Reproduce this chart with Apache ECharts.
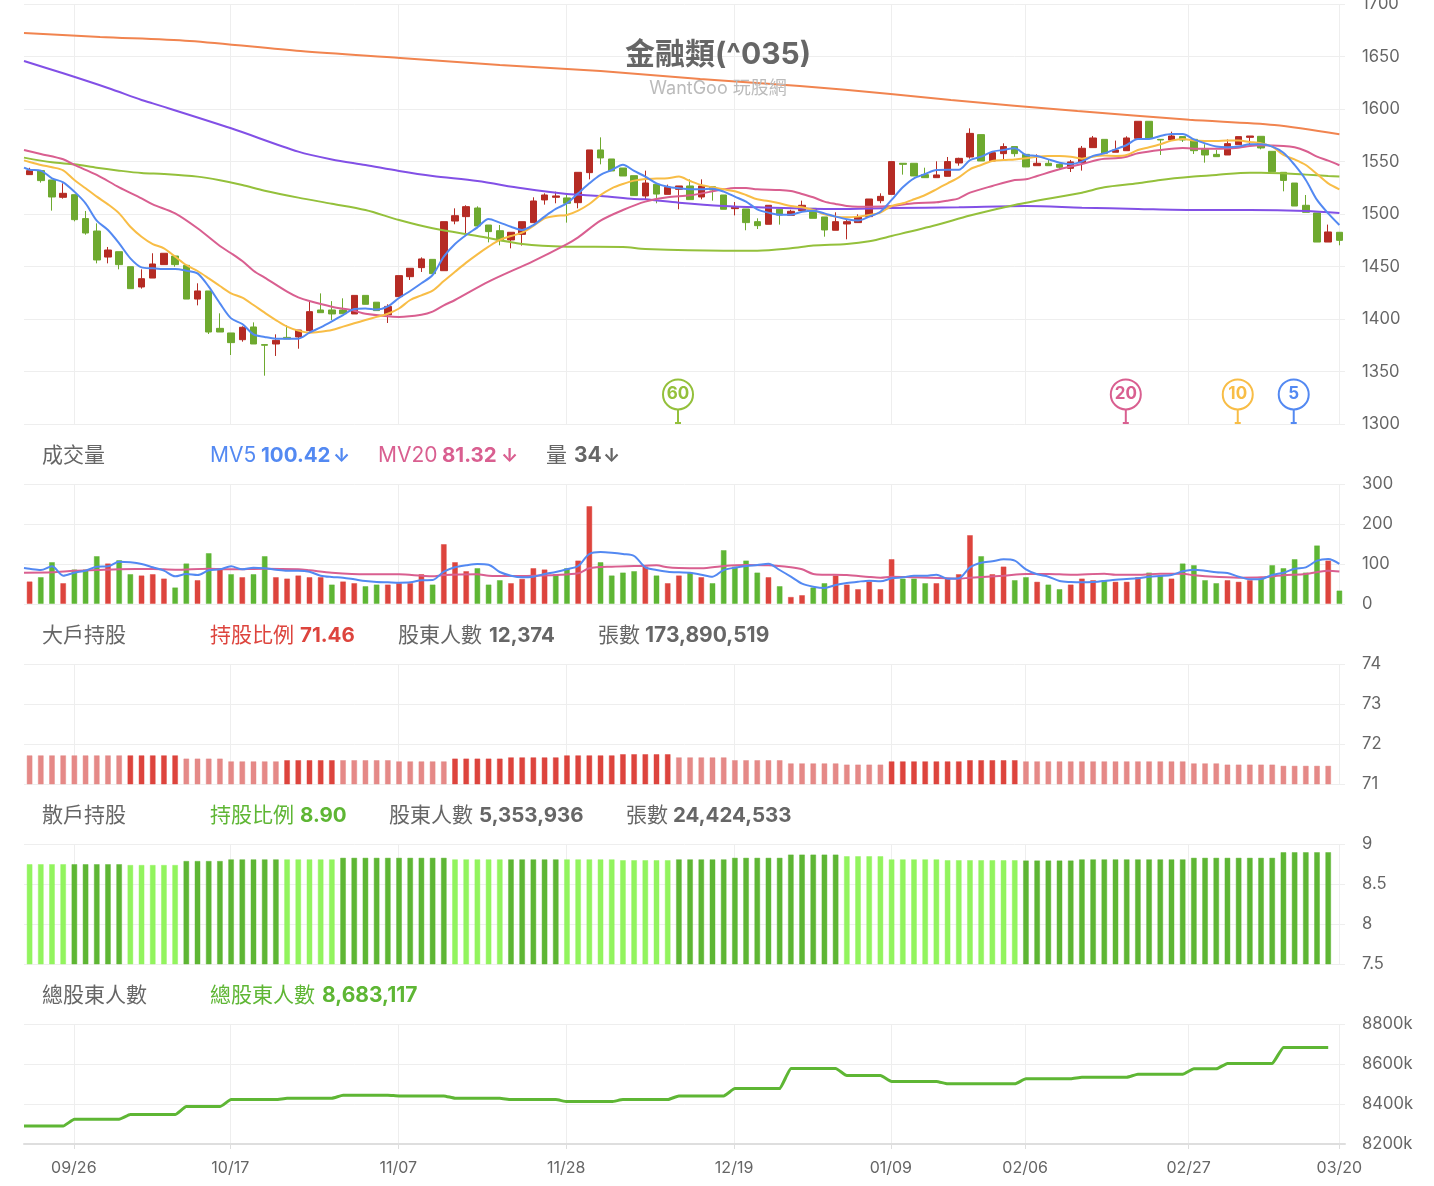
<!DOCTYPE html>
<html>
<head>
<meta charset="utf-8">
<title>金融類(^035)</title>
<script src="https://cdn.jsdelivr.net/npm/echarts@6/dist/echarts.min.js"></script>
<style>
html,body{margin:0;padding:0;background:#fff}
#chart{width:1434px;height:1186px}
</style>
</head>
<body>
<div id="chart"></div>
<script>
// ---- daily candles, one value per session ----
const candleOpen = [1537.5,1541.3,1532.4,1515.9,1518.4,1495.6,1483.8,1459,1464.1,1449.8,1430.5,1439,1451.8,1460,1451.1,1419,1426.7,1391.1,1386.7,1380.3,1392.4,1375.6,1376.2,1382.5,1382.9,1388.9,1408.6,1408.6,1408.6,1404.8,1422.5,1416,1404,1421.3,1440.3,1448.9,1456.8,1446,1493.3,1497.5,1505.7,1489.5,1484.1,1475.3,1480.6,1491.8,1513.4,1515.9,1515.3,1510.8,1539.4,1561,1552.4,1543.8,1536.5,1517.2,1528.3,1518.7,1523.5,1526.7,1516.2,1526,1518.1,1505.1,1504.8,1492.7,1490.2,1504.5,1498.7,1503.2,1505.4,1497.2,1484.5,1490.5,1491.8,1497.5,1512.7,1518.7,1548.3,1548.3,1537.5,1534.6,1535.9,1548.6,1554.3,1575.6,1550.5,1557.5,1564.2,1556.8,1546,1548.3,1547.3,1543.5,1548.9,1563.2,1571.1,1558.8,1560.3,1572.1,1588.3,1571.1,1570.5,1573.7,1571.1,1561.9,1556.8,1556.2,1566,1573,1574,1559.7,1539.7,1529.5,1508.3,1501,1473.3,1482.6];
const candleClose = [1541.3,1531.8,1516.2,1519.7,1494.6,1481.9,1456.2,1465.7,1451.8,1428.9,1438.4,1452.4,1462.6,1451.8,1419,1426.7,1387.6,1387.6,1377.5,1392.1,1376.2,1375,1379.7,1381,1389.5,1407,1406,1404.8,1405,1422.5,1414,1408,1412,1441.3,1448.3,1457.2,1443.2,1492.7,1498.4,1507,1488.6,1483.2,1475.3,1482.6,1492.7,1512.4,1518.1,1517.2,1510.2,1539.7,1561,1553.4,1541,1536.2,1517.5,1529.5,1519,1525.4,1526.7,1513.7,1526.7,1522.9,1504.5,1506.4,1491.8,1488.9,1508.3,1499,1502.6,1508.3,1495.9,1484.8,1492.7,1492.7,1497.5,1514.3,1516.8,1549.9,1547.3,1536.2,1534.6,1537.2,1549.9,1553,1576.8,1550.5,1558.4,1564.2,1557.5,1544.8,1548.3,1546,1544.5,1549.6,1562.6,1572.4,1557.8,1561,1572.4,1588.3,1572.1,1570.5,1574.3,1570.5,1560.3,1556.2,1554.6,1567,1573.7,1574.3,1562.9,1540.3,1532,1507.6,1501.6,1473.3,1482.9,1474.9];
const candleHigh = [1544,1541.3,1532.4,1529.2,1518.4,1502.9,1491.1,1468.6,1464.1,1449.8,1447.3,1462.6,1462.6,1460,1451.1,1434,1426.7,1405.4,1386.7,1393,1396.8,1375.6,1385.4,1394,1389.5,1416.2,1424.4,1417,1419.7,1422.5,1422.5,1416,1414,1441.3,1448.3,1458.7,1456.8,1492.7,1505.4,1508.3,1507.3,1489.5,1489.5,1482.6,1492.7,1515.9,1519.7,1521.3,1518.4,1539.7,1561,1573,1552.4,1543.8,1536.5,1541.3,1528.3,1528,1526.7,1533,1533,1526,1518.1,1511.4,1504.8,1495.9,1508.3,1504.5,1504,1512.7,1505.4,1497.2,1501.6,1495,1499.7,1514.3,1519.7,1549.9,1548.3,1548.3,1544.1,1550.2,1554.3,1553.6,1581.6,1575.6,1558.4,1567.3,1564.2,1556.8,1556.8,1552,1548,1551.5,1564.8,1574.3,1571.1,1569.9,1574,1588.3,1588.3,1571.1,1578.4,1573.7,1571.1,1566.4,1561,1571,1573.7,1574.3,1574,1559.7,1539.7,1529.5,1518.1,1501,1489.9,1482.6];
const candleLow = [1537.5,1529.9,1503.2,1514.6,1493,1480.3,1453,1453,1447.3,1428.9,1428.9,1439,1451.8,1449.8,1419,1413,1385.7,1387.6,1365.7,1378.4,1376.2,1346,1364.8,1381,1371.7,1388,1406,1399,1405,1404.8,1414,1408,1396.2,1421.3,1437.2,1444.8,1443.2,1446,1490.2,1480,1486.4,1473,1470.2,1467.3,1469.9,1491.8,1508.9,1510.2,1491.8,1505.4,1533,1547.3,1541,1536.2,1517.5,1514.3,1510.2,1518.7,1504.5,1513.7,1514,1512.7,1504.5,1498.7,1484.5,1485.7,1490.2,1489.9,1498.7,1503.2,1495.9,1478.4,1484.5,1475.9,1491.8,1497.5,1510.2,1518.7,1537.5,1536.2,1534.6,1534.6,1535.9,1546,1552.7,1550.5,1550.5,1551.8,1554.6,1544.8,1546,1546,1542.6,1540,1541.3,1563.2,1557.8,1558.8,1560.3,1572.1,1572.1,1556.2,1570.5,1568.6,1557.2,1548.9,1554.6,1556.2,1566,1566,1561.6,1540.3,1521.6,1507.6,1501.6,1473.3,1473.3,1470.2];

// ---- price moving averages; the first entry of ma5/ma10 is the value at the left edge ----
const ma5 = [1544.1,1542.2,1541.3,1534,1530.2,1521.3,1510.2,1493.7,1484.8,1472.1,1457.8,1449.2,1448.3,1447.6,1447.6,1446,1443.5,1430.8,1414.9,1400.6,1395.2,1385.4,1382.9,1381.3,1381.3,1381.3,1387,1392.1,1397.8,1403.8,1409.5,1410,1409,1412,1420,1426.7,1434,1441.9,1459.4,1471.4,1480,1487.3,1495.3,1491.8,1487.9,1484.8,1489.5,1497.5,1504.8,1510.2,1519.7,1529.2,1537.2,1541.9,1547,1541,1535.6,1529.2,1526,1524.5,1523.5,1523.5,1524.1,1521.3,1516.5,1511.8,1504.5,1501.3,1499.4,1499.4,1502.2,1503.2,1500.6,1497.5,1494.9,1493.7,1497.5,1502.2,1513.4,1525.4,1534,1538.1,1541.9,1542.2,1542.2,1551.4,1554.6,1559.4,1561,1562.6,1556.2,1555.3,1552,1548.9,1547.6,1549.9,1555.3,1557.8,1561.6,1565.7,1571.5,1571.5,1574.3,1576.2,1576.2,1571.1,1567.3,1564.2,1563.5,1564.2,1566.4,1566.4,1564.2,1558.4,1546.7,1532.4,1513.4,1500.6,1489.5];
const ma10 = [1551.1,1549.5,1546.7,1544.5,1541.6,1532.4,1524.5,1516.5,1509.2,1500.6,1487.9,1478.4,1471.4,1467.3,1459.4,1451.4,1445.7,1438.7,1431.4,1424.4,1420.3,1413.3,1406,1399,1392.7,1388.9,1387,1387.9,1389.5,1392.7,1395.9,1399,1402,1405,1410,1418.1,1422.5,1427,1436.2,1445,1453.7,1461.6,1468.9,1475.3,1479,1482.2,1488.6,1495.9,1498.1,1499.1,1503.2,1509.5,1518.1,1524.5,1528.6,1531.8,1533.4,1533.7,1534,1535.6,1531.4,1527.6,1525.4,1523.5,1521.6,1518.1,1514,1512.4,1510.2,1507.6,1506.4,1503.8,1499.7,1497.5,1496.8,1497.5,1499.1,1501.3,1507.6,1510.2,1514,1518.1,1523.5,1529.2,1534.9,1542.6,1546.7,1550.5,1551.4,1552,1553,1554.6,1555.3,1555.3,1554.6,1552.7,1554.6,1555.6,1555.3,1556.2,1561,1563.5,1566.4,1569.9,1571.5,1569.9,1569.5,1569.5,1569.9,1569.9,1568.6,1567.3,1564.2,1556.2,1552,1546.7,1538.1,1529.2,1523.5];
const ma20Nodes = [[-0.5,1561],[1,1557.2],[3,1552.1],[4,1546.7],[6,1537.2],[8,1525.4],[10,1514.9],[11,1509.2],[13,1500.6],[15,1486.4],[17,1469.5],[18,1462.6],[19,1455.2],[20,1446],[21,1439.4],[23,1426],[24,1420.6],[25,1417.1],[27,1411.7],[29,1407.9],[30,1405],[33,1402],[35,1404],[36,1407],[37,1413],[38,1418.1],[41,1435.6],[45,1455.2],[48,1471.4],[49,1477.8],[51,1493.7],[53,1503.8],[55,1511.8],[57,1515.9],[59,1517.8],[62,1523.5],[63,1524.8],[64,1524.8],[65,1523.5],[67,1522.9],[68,1521.9],[69,1519.1],[70,1515.9],[71,1511.8],[72,1509.5],[73,1507.6],[74,1507],[75,1507],[77,1507.6],[79,1510.2],[81,1511.1],[82,1512.7],[83,1514.9],[84,1520.3],[86,1526.7],[88,1532.4],[89,1533],[90,1536.2],[92,1542.6],[94,1547.6],[96,1552.7],[97,1553],[98,1554.6],[99,1557.8],[101,1561],[103,1562.9],[104,1562.2],[106,1562.2],[108,1563.2],[109,1564.8],[110,1565.4],[112,1564.8],[113,1563.5],[114,1560],[115,1554.6],[116,1550.8],[117,1546.4]];
const ma60Nodes = [[-0.5,1553.7],[2,1549.2],[4,1547.3],[6,1544.1],[8,1541.3],[10,1539],[12,1538.1],[15,1535.6],[17,1532.1],[19,1527.6],[21,1522.2],[24,1515.6],[27,1509.8],[30,1503.8],[33,1494.3],[36,1486.4],[40,1479],[44,1471.4],[48,1468.9],[53,1468.6],[55,1466.7],[62,1465.1],[65,1465.1],[68,1467.3],[70,1469.9],[73,1471.4],[75,1474],[77,1479],[81,1489.5],[84,1498.5],[88,1508.6],[94,1520.3],[96,1525.4],[99,1529.2],[101,1532.4],[104,1535.6],[106,1537.2],[109,1539.4],[110,1539.4],[112,1538.7],[114,1537.5],[116,1536.2],[117,1535.6]];
const ma120Nodes = [[-0.5,1645.7],[3,1634],[7,1620],[10,1608.6],[11,1605.4],[18,1581.6],[24,1559.4],[27,1552],[30,1546.7],[33,1541],[36,1536.2],[40,1531.4],[44,1524.5],[48,1519],[51,1517.2],[54,1514.3],[55,1514],[58,1510.8],[62,1507.6],[65,1506.4],[72,1504.8],[77,1505.7],[83,1506.4],[89,1507.6],[94,1506],[99,1504.8],[104,1503.8],[109,1503.8],[114,1502.9],[117,1501]];
const ma240Nodes = [[-0.5,1672.4],[6.3,1668.6],[14.3,1664.8],[24.2,1655.2],[33.1,1648.6],[42,1641.9],[51,1636.2],[59.9,1628.6],[68.8,1621.9],[76.9,1614.3],[82.3,1608.6],[93.6,1598],[103.6,1589.7],[111.2,1584.8],[117,1575.9]];

// ---- traded volume ----
const volume = [56.7,67.5,105,52.5,86.7,86.7,120,101.7,110,75,71.7,75,64,41.7,101.7,60,127.5,86.7,75,67.5,75,120,67.5,64,71.7,67.5,67.5,49,56.7,52.5,45,49,49,52.5,52.5,75,49,150,105,82.5,90,49,60,52.5,63.3,90,86.7,75,90,109,245,105,71.7,79,82.5,94,71.7,52.5,71.7,79,67.5,52.5,135,94,109,79,67.5,45,18,22.5,41.7,52.5,71.7,49,37.5,56.7,37.5,112.5,64,64,52.5,52.5,64,75,172.5,120,75,94,60,67.5,56,49,37.5,49,64,60,60,56,56,67.5,79,71.7,64,101.7,97.5,60,52.5,60,56,60,64,97.5,90,112.5,79,146.7,109,34];
const volumeUp = "RGGRGGGRGG" + "RRRGGRGRGR" + "GGRRRRRGRR" + "GGRRRRGRRR" + "GGGRRRRGGR" + "RGGGGRGRRG" + "RGGGGGRGRR" + "GGRRRRRRGG" + "GRRRRGRRGG" + "RGGRRRGRRR" + "GGRGGGGRRR" + "GGGGGGRG";
const volumeMa5 = [90,88,85,94.2,70.8,78.3,83.3,93.3,94.2,105.8,104.2,100,91.7,83.3,69.2,75,72.5,84.2,86.7,94.2,86.7,90.8,89.2,85.8,83.3,83.3,80.8,70.8,67.5,65.8,61.7,57.5,55,54.2,53.3,54.2,59.2,60,80.8,91.7,96.7,100,98.3,80,70.8,66.7,68.3,75,80,86.7,95,125,130,128.3,125,120,91.7,85,80.8,79.2,78.3,73.3,68.3,85,90.8,95,97.5,100.8,85,68.3,50.8,43.3,40,47.5,52.5,55.8,58.3,56.7,64.2,66.7,70.8,70.8,73.3,63.3,64.2,91.7,103.3,106.7,111.7,108.3,86.7,74.2,68.3,57.5,55,54.2,55,57.5,60.8,62.5,64.2,68.3,70,72.5,81.7,85.8,83.3,79.2,77.5,68.3,61.7,62.5,72.5,78.3,88.3,91.7,108.3,112.5,100.42];
const volumeMa20Nodes = [[-0.5,78.3],[2,79.2],[4,83.3],[6,85],[8,86.7],[11,87.5],[13,85.8],[16,88.3],[18,86.7],[21,88.3],[24,86.7],[25,84.2],[27,78.3],[30,74.2],[33,74.2],[35,70.8],[36,69.2],[37,72.5],[40,74.2],[41,70.8],[43,70],[45,70.8],[47,72.5],[49,76.7],[50,89.2],[52,93.3],[55,95.8],[56,96.7],[57,91.7],[58,90],[60,89.2],[62,95],[64,97.5],[66,96.7],[68,91.7],[69,86.7],[70,75],[71,73.3],[73,72.5],[75,67.5],[76,65.8],[77,68.3],[79,66.7],[82,64.2],[83,63.3],[84,65.8],[87,70.8],[89,75],[91,75],[93,73.3],[96,75.8],[97,73.3],[99,73.3],[101,75.8],[103,75.8],[104,71.7],[105,69.2],[108,65.8],[110,66.7],[112,71.7],[114,75],[116,83.3],[117,81.32]];

// ---- weekly holder reports: [sessions, value, strong colour] ----
const bigHolderWeeks = [[9,71.72,0],[5,71.72,1],[4,71.64,0],[5,71.57,0],[5,71.6,1],[5,71.6,0],[5,71.57,0],[5,71.64,1],[5,71.67,1],[5,71.72,1],[5,71.75,1],[5,71.67,0],[5,71.6,0],[5,71.52,0],[4,71.49,0],[7,71.57,1],[5,71.6,1],[15,71.57,0],[3,71.52,0],[5,71.49,0],[5,71.46,0]];
const smallHolderWeeks = [[4,8.75,0],[5,8.75,1],[5,8.74,0],[4,8.79,1],[5,8.81,1],[5,8.81,0],[5,8.83,1],[5,8.83,1],[5,8.81,0],[5,8.81,1],[5,8.81,0],[5,8.8,0],[5,8.81,1],[5,8.83,1],[5,8.87,1],[4,8.85,0],[5,8.81,0],[7,8.8,0],[5,8.796,1],[10,8.81,1],[8,8.83,1],[5,8.9,1]];
const holderCountWeeks = [[4,8290],[5,8323.7],[5,8347],[4,8387],[5,8422],[5,8429],[5,8444],[5,8440.6],[5,8429],[5,8422],[5,8412],[5,8422],[5,8440.6],[5,8477],[5,8578],[4,8542.6],[5,8512.6],[7,8500.8],[5,8526],[5,8534],[5,8549],[3,8576],[5,8603],[5,8683.117]];

// ---- date axis; a tick may sit between two sessions ----
const tickIndex = [3.95,17.93,32.93,47.93,62.93,76.93,88.93,103.53,117];
const tickLabels = ['09/26','10/17','11/07','11/28','12/19','01/09','02/06','02/27','03/20'];
const priceTicks = { min: 1300, max: 1700, interval: 50 };
const volumeTicks = { min: 0, max: 300, interval: 100 };
const bigHolderTicks = { min: 71, max: 74, interval: 1 };
const smallHolderTicks = { min: 7.5, max: 9, interval: 0.5 };
const holderCountTicks = { min: 8200, max: 8800, interval: 200 };

// ---- moving-average pins: [session, level, period, colour name] ----
const maPins = [[57.92,1328.2,'60','ma60'],[97.92,1328.2,'20','ma20'],[107.92,1328.2,'10','ma10'],[112.92,1328.2,'5','ma5']];

const sessionCount = candleOpen.length;
const sessions = candleOpen.map((_, i) => i);

const colors = {
  ma5: '#5389f2', ma10: '#f8bd46', ma20: '#d95f90', ma60: '#94c03b',
  ma120: '#8250e6', ma240: '#f1844f',
  candleUp: '#b52b24', candleDown: '#6ea92f',
  barRed: '#dd443d', barGreen: '#5eb634',
  barRedSoft: '#e58987', barGreenSoft: '#92f45e',
  text: '#666666', grid: '#eeeeee'
};
const FONT = 'Inter, "Noto Sans CJK TC", sans-serif';

// Expand weekly runs to one entry per session.
function expandWeeks(weeks) {
  const out = [];
  weeks.forEach(w => { for (let k = 0; k < w[0]; k++) out.push(w); });
  return out;
}
// A list whose first entry belongs to the left edge of the plot.
function edgeSeries(list) {
  return list.map((v, k) => [k === 0 ? -0.5 : k - 1, v]);
}

const grids = [
  { top: 4, height: 420 },
  { top: 484, height: 120 },
  { top: 664, height: 120 },
  { top: 844, height: 120 },
  { top: 1024, height: 120 }
].map(g => ({ left: 24, right: 89, top: g.top, height: g.height, outerBoundsMode: 'none' }));

const xAxes = [];
const yAxes = [];
[priceTicks, volumeTicks, bigHolderTicks, smallHolderTicks, holderCountTicks].forEach((t, k) => {
  const last = k === 4;
  xAxes.push({
    type: 'category', gridIndex: k, data: sessions, show: false, boundaryGap: true
  });
  xAxes.push({
    type: 'value', gridIndex: k, min: -0.5, max: sessionCount - 0.5, position: 'bottom',
    axisLine: { show: last, onZero: false, lineStyle: { color: '#dedede', width: 2 } },
    axisTick: { show: last, customValues: tickIndex, length: 5, lineStyle: { color: '#dedede', width: 1 } },
    axisLabel: {
      show: last, customValues: tickIndex, margin: 16, color: colors.text,
      fontFamily: FONT, fontSize: 16,
      formatter: v => tickLabels[tickIndex.indexOf(v)] || ''
    },
    splitLine: { show: true, lineStyle: { color: colors.grid, width: 1 } }
  });
  yAxes.push({
    type: 'value', gridIndex: k, position: 'right', min: t.min, max: t.max, interval: t.interval,
    axisLine: { show: false }, axisTick: { show: false },
    axisLabel: {
      margin: 17, color: colors.text, fontFamily: FONT, fontSize: 16.6, padding: [-3, 0, 0, 0],
      formatter: v => String(v) + (k === 4 ? 'k' : '')
    },
    splitLine: { show: true, lineStyle: { color: colors.grid, width: 1 } }
  });
});

function lineSeries(pane, data, color, width, extra) {
  return Object.assign({
    type: 'line', xAxisIndex: pane * 2 + 1, yAxisIndex: pane, data,
    symbol: 'none', smooth: 0.3, silent: true,
    lineStyle: { color, width: width || 2 }, z: 5
  }, extra || {});
}

function softBorder(color) { return echarts.color.modifyAlpha(color, 0.45); }

const bigWeeks = expandWeeks(bigHolderWeeks);
const smallWeeks = expandWeeks(smallHolderWeeks);

const series = [
  {
    type: 'candlestick', xAxisIndex: 0, yAxisIndex: 0, barWidth: 7,
    data: sessions.map(i => [candleOpen[i], candleClose[i], candleLow[i], candleHigh[i]]),
    itemStyle: {
      color: colors.candleUp, color0: colors.candleDown,
      borderColor: colors.candleUp, borderColor0: colors.candleDown, borderWidth: 1
    },
    z: 2
  },
  lineSeries(0, ma240Nodes, colors.ma240),
  lineSeries(0, ma120Nodes, colors.ma120),
  lineSeries(0, ma60Nodes, colors.ma60),
  lineSeries(0, ma20Nodes, colors.ma20),
  lineSeries(0, edgeSeries(ma10), colors.ma10),
  lineSeries(0, edgeSeries(ma5), colors.ma5),
  {
    // Period pins standing on the lower edge of the price pane.
    type: 'custom', xAxisIndex: 1, yAxisIndex: 0, z: 6, silent: true,
    data: maPins,
    renderItem(params, api) {
      const c = api.coord([api.value(0), api.value(1)]);
      const foot = api.coord([api.value(0), priceTicks.min]);
      const pin = maPins[params.dataIndex];
      const col = colors[pin[3]];
      return {
        type: 'group',
        children: [
          { type: 'line', shape: { x1: c[0], y1: c[1], x2: foot[0], y2: foot[1] }, style: { stroke: col, lineWidth: 2 } },
          { type: 'line', shape: { x1: foot[0] - 3, y1: foot[1] - 1, x2: foot[0] + 3, y2: foot[1] - 1 }, style: { stroke: col, lineWidth: 2 } },
          { type: 'circle', shape: { cx: c[0], cy: c[1], r: 15 }, style: { fill: '#fff', stroke: col, lineWidth: 2 } },
          { type: 'text', style: { x: c[0], y: c[1], text: pin[2], fill: col, font: 'bold 17px ' + FONT, align: 'center', verticalAlign: 'middle' } }
        ]
      };
    }
  },
  {
    type: 'bar', xAxisIndex: 2, yAxisIndex: 1, barWidth: 6,
    data: volume.map((v, i) => {
      const col = volumeUp[i] === 'R' ? colors.barRed : colors.barGreen;
      return { value: v, itemStyle: { color: col, borderColor: softBorder(col), borderWidth: 1 } };
    }),
    z: 2
  },
  lineSeries(1, volumeMa20Nodes, colors.ma20),
  lineSeries(1, edgeSeries(volumeMa5), colors.ma5),
  {
    type: 'bar', xAxisIndex: 4, yAxisIndex: 2, barWidth: 6,
    data: bigWeeks.map(w => {
      const col = w[2] ? colors.barRed : colors.barRedSoft;
      return { value: w[1], itemStyle: { color: col, borderColor: softBorder(col), borderWidth: 1 } };
    }),
    z: 2
  },
  {
    type: 'bar', xAxisIndex: 6, yAxisIndex: 3, barWidth: 6,
    data: smallWeeks.map(w => {
      const col = w[2] ? colors.barGreen : colors.barGreenSoft;
      return { value: w[1], itemStyle: { color: col, borderColor: softBorder(col), borderWidth: 1 } };
    }),
    z: 2
  },
  lineSeries(4, [[-0.5, holderCountWeeks[0][1]]].concat(expandWeeks(holderCountWeeks).map((w, i) => [i, w[1]])), colors.barGreen, 3, { smooth: 0.15, smoothMonotone: 'x' })
];

// Header rows above each pane: [left, text, colour, bold, size]
const headerRows = [
  { y: 456, parts: [
    [42, '成交量', colors.text, 0],
    [210, 'MV5', colors.ma5, 0], [261, '100.42', colors.ma5, 1, 20.5], [333, '↓', colors.ma5, 1, 19],
    [378, 'MV20', colors.ma20, 0], [442, '81.32', colors.ma20, 1, 20.5], [501, '↓', colors.ma20, 1, 19],
    [546, '量', colors.text, 0], [574, '34', colors.text, 1], [603, '↓', colors.text, 1, 19]
  ] },
  { y: 636, parts: [
    [42, '大戶持股', colors.text, 0],
    [210, '持股比例', colors.barRed, 0], [300, '71.46', colors.barRed, 1, 20.5],
    [398, '股東人數', colors.text, 0], [489, '12,374', colors.text, 1, 20.5],
    [598, '張數', colors.text, 0], [645, '173,890,519', colors.text, 1]
  ] },
  { y: 816, parts: [
    [42, '散戶持股', colors.text, 0],
    [210, '持股比例', colors.barGreen, 0], [300, '8.90', colors.barGreen, 1, 20.5],
    [389, '股東人數', colors.text, 0], [479, '5,353,936', colors.text, 1, 20.5],
    [626, '張數', colors.text, 0], [673, '24,424,533', colors.text, 1, 20.5]
  ] },
  { y: 996, parts: [
    [42, '總股東人數', colors.text, 0],
    [210, '總股東人數', colors.barGreen, 0], [322, '8,683,117', colors.barGreen, 1]
  ] }
];

const graphic = [
  {
    type: 'text', x: 718, y: 55, silent: true, z: 10,
    style: { text: '金融類(^035)', fill: colors.text, fontFamily: FONT, fontSize: 30, fontWeight: 'bold', align: 'center', verticalAlign: 'middle' }
  },
  {
    type: 'text', x: 718, y: 89, silent: true, z: 10,
    style: { text: 'WantGoo 玩股網', fill: '#bbbbbb', fontFamily: FONT, fontSize: 18, align: 'center', verticalAlign: 'middle' }
  }
];
headerRows.forEach(row => row.parts.forEach(p => {
  graphic.push({
    type: 'text', x: p[0], y: row.y, silent: true,
    style: {
      text: p[1], fill: p[2], fontFamily: FONT, fontSize: p[4] || 21,
      fontWeight: p[3] ? 'bold' : 'normal', verticalAlign: 'middle', align: 'left'
    }
  });
}));

const chart = echarts.init(document.getElementById('chart'), null, { renderer: 'canvas' });
chart.setOption({
  animation: false,
  backgroundColor: '#ffffff',
  grid: grids,
  xAxis: xAxes,
  yAxis: yAxes,
  series,
  graphic
});
</script>
</body>
</html>
